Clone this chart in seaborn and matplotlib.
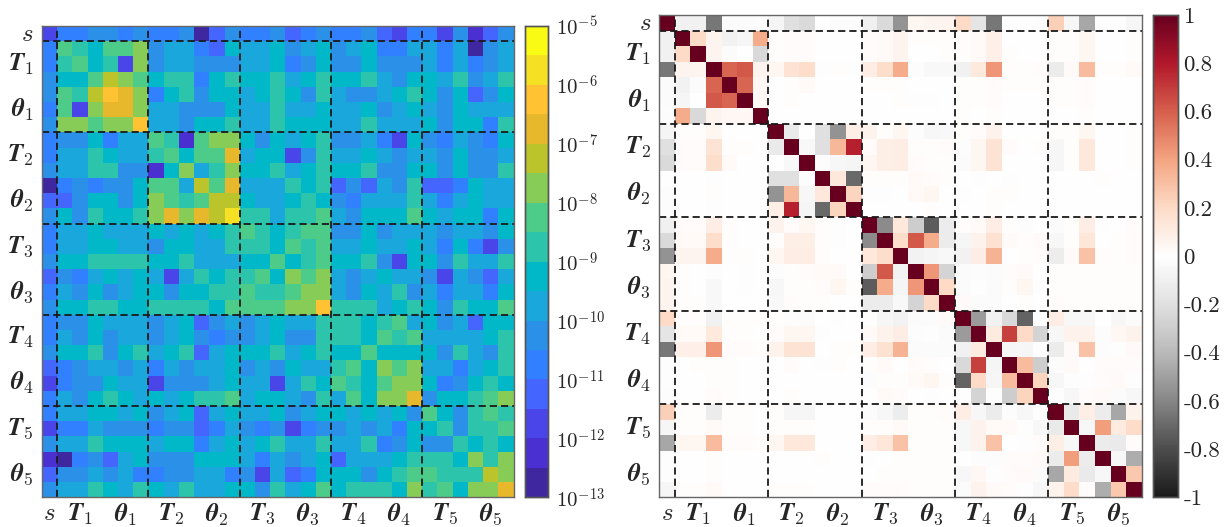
import numpy as np
import matplotlib
matplotlib.use("Agg")
import matplotlib.pyplot as plt
from matplotlib.colors import ListedColormap, LogNorm
import seaborn as sns

# labels / block layout
tick_pos = [0.5, 2.5, 5.5, 8.5, 11.5, 14.5, 17.5, 20.5, 23.5, 26.5, 29.5]
tick_labels = [r"$s$"] + [r"$\mathbfit{%s}_{%d}$" % (n, i) for i in range(1, 6) for n in ("T", r"\theta")]
block_edges = [1, 7, 13, 19, 25]

# colour bin of each cell in the left matrix (upper triangle, row by row)
cov_bins = [
    [2, 4, 4, 5, 5, 4, 5, 4, 4, 5, 0, 3, 5, 4, 4, 5, 3, 4, 5, 4, 4, 5, 3, 2, 4, 4, 2, 5, 1, 3, 5],
    [9, 8, 7, 9, 9, 10, 5, 6, 6, 4, 3, 7, 6, 6, 7, 5, 6, 7, 5, 6, 7, 4, 4, 6, 6, 4, 6, 0, 5, 6],
    [9, 7, 8, 2, 10, 5, 6, 6, 5, 5, 5, 6, 6, 7, 4, 5, 7, 5, 5, 7, 5, 5, 5, 6, 4, 6, 4, 5, 6],
    [9, 11, 10, 9, 7, 8, 8, 4, 7, 8, 7, 7, 8, 6, 7, 8, 7, 7, 8, 6, 5, 7, 7, 6, 8, 5, 6, 8],
    [13, 12, 10, 4, 7, 8, 5, 7, 7, 6, 7, 8, 7, 5, 8, 6, 5, 5, 6, 7, 8, 7, 5, 7, 3, 5, 7],
    [12, 10, 6, 6, 5, 5, 5, 7, 6, 6, 8, 6, 6, 7, 6, 6, 7, 5, 6, 7, 6, 5, 7, 6, 6, 6],
    [13, 6, 6, 5, 7, 7, 8, 6, 6, 8, 7, 7, 7, 6, 6, 8, 6, 6, 6, 7, 5, 7, 7, 4, 8],
    [9, 8, 1, 9, 10, 10, 7, 5, 7, 6, 7, 8, 5, 5, 6, 4, 2, 7, 5, 4, 6, 5, 4, 7],
    [9, 7, 9, 9, 12, 6, 7, 7, 2, 5, 8, 6, 6, 7, 6, 5, 6, 6, 5, 7, 5, 5, 6],
    [10, 6, 8, 10, 7, 7, 8, 6, 7, 8, 7, 7, 8, 5, 5, 7, 7, 5, 7, 5, 5, 8],
    [11, 9, 12, 6, 6, 6, 8, 7, 8, 3, 5, 3, 6, 5, 8, 3, 3, 4, 7, 6, 6],
    [11, 11, 7, 6, 6, 7, 8, 7, 5, 4, 6, 6, 6, 8, 6, 4, 6, 7, 6, 6],
    [14, 8, 8, 6, 8, 8, 9, 6, 5, 7, 7, 7, 9, 7, 6, 7, 7, 4, 7],
    [9, 8, 7, 8, 9, 9, 5, 5, 7, 5, 6, 6, 6, 5, 6, 6, 5, 7],
    [8, 7, 9, 8, 9, 6, 6, 7, 6, 6, 7, 6, 4, 7, 4, 2, 5],
    [9, 7, 8, 9, 7, 7, 8, 5, 2, 7, 7, 5, 8, 6, 6, 8],
    [10, 9, 10, 6, 5, 6, 7, 6, 6, 5, 2, 6, 5, 3, 6],
    [10, 10, 6, 5, 7, 6, 8, 5, 6, 4, 6, 6, 4, 7],
    [13, 8, 8, 8, 6, 7, 8, 7, 5, 8, 7, 7, 9],
    [8, 8, 7, 8, 9, 6, 7, 5, 6, 3, 7, 7],
    [8, 7, 9, 8, 9, 6, 6, 6, 6, 7, 8],
    [9, 7, 7, 7, 7, 5, 8, 6, 5, 8],
    [10, 9, 10, 6, 6, 4, 6, 7, 8],
    [10, 10, 7, 4, 5, 7, 8, 7],
    [12, 5, 7, 7, 8, 9, 10],
    [9, 7, 5, 8, 9, 8],
    [8, 5, 8, 8, 9],
    [8, 7, 8, 7],
    [10, 8, 10],
    [11, 10],
    [12],
]

# correlations, right matrix (upper triangle, row by row)
corr_rows = [
    [1, -.09, -.09, -.65, -.03, -.03, -.02, -.07, -.2, -.23, 0, -.02, -.02, -.1, -.23, -.55, .05, .06, .06, .2, -.17, -.65, -.01, -.01, -.02, .24, -.06, -.47, -.01, -.01, -.06],
    [1, .2, .06, -.08, -.06, .37, .01, .02, .02, 0, 0, 0, .02, .03, .06, .01, .01, .01, .01, .03, .08, 0, 0, 0, .01, .01, .05, 0, 0, .01],
    [1, .06, -.03, 0, -.24, .01, .02, .02, 0, 0, 0, .02, .03, .06, 0, 0, .01, .01, .03, .08, .01, 0, 0, .01, .01, .05, 0, 0, .01],
    [1, .58, .62, .06, .05, .15, .18, -.01, .01, -.01, .1, .18, .37, -.02, -.04, -.04, -.09, .12, .44, .01, .01, .02, -.12, .03, .32, .01, .01, .03],
    [1, .58, .04, 0, .01, .03, 0, 0, 0, .01, .01, .01, 0, 0, 0, .01, .01, .02, .01, .01, .01, .01, .01, .02, 0, 0, 0],
    [1, .04, 0, .01, 0, 0, 0, 0, 0, 0, .01, -.01, -.01, 0, .01, .01, .02, 0, 0, 0, .01, .01, .02, 0, 0, 0],
    [1, 0, 0, 0, 0, 0, 0, 0, 0, 0, 0, 0, 0, .01, 0, .01, 0, 0, 0, 0, 0, .01, 0, 0, 0],
    [1, -.14, 0, -.2, -.55, .09, .07, .01, .05, -.02, -.05, -.04, .01, .02, .07, 0, 0, 0, .01, .01, .05, 0, 0, .01],
    [1, -.04, -.2, .33, .78, .02, .09, .1, .01, .01, .02, -.02, .05, .15, .02, 0, .01, -.06, .01, .13, 0, 0, .01],
    [1, -.02, -.05, -.07, .05, .09, .1, .02, .01, .01, -.03, .05, .15, 0, 0, 0, -.06, .01, .13, 0, 0, .01],
    [1, .13, -.7, .01, .01, .01, .03, .02, .01, 0, -.01, 0, -.01, 0, 0, 0, 0, 0, .01, 0, 0],
    [1, .22, -.01, -.01, 0, .03, .05, 0, -.01, 0, .01, .01, 0, 0, 0, 0, 0, 0, 0, 0],
    [1, 0, 0, 0, 0, .01, 0, 0, 0, .01, 0, 0, 0, 0, 0, 0, 0, 0, 0],
    [1, -.58, .13, -.3, -.75, -.12, .01, .03, .1, .01, -.02, 0, -.03, .01, .1, -.01, 0, .02],
    [1, .18, .62, .37, -.12, -.06, .07, .16, .03, .01, .03, -.05, .01, .14, 0, .01, .02],
    [1, -.08, -.07, -.04, -.08, .1, .35, 0, .01, .02, -.11, .03, .29, .01, .01, .02],
    [1, .44, -.26, -.03, -.02, -.03, .02, .03, 0, .01, .01, .01, .01, .01, .01],
    [1, .2, -.03, -.01, -.03, .01, .05, -.01, .01, .01, .01, .01, .01, .01],
    [1, .03, -.03, -.03, 0, .01, 0, .02, .01, .01, .01, .01, .01],
    [1, -.52, -.09, -.24, -.72, -.01, .1, -.05, -.05, 0, -.05, -.03],
    [1, .11, .68, .2, -.26, -.05, .07, .07, -.02, .04, .07],
    [1, -.07, -.06, -.01, -.12, .03, .29, -.02, -.01, .03],
    [1, .32, -.3, -.02, .03, 0, .02, .02, .02],
    [1, .22, -.05, -.01, -.01, .02, .03, -.01],
    [1, -.01, -.05, .02, .03, -.03, -.05],
    [1, -.14, .09, -.12, -.47, .07],
    [1, -.05, .42, .11, .19],
    [1, -.12, -.14, .02],
    [1, -.05, -.45],
    [1, .27],
    [1],
]

cov_colors = ["#3f27a0", "#4a30d0", "#4a45e8", "#4466ff", "#3080ff", "#2a90e8", "#1aa8dc", "#00b8c8",
              "#2cc4aa", "#4ccc88", "#88cc58", "#bcc42c", "#e8b82c", "#ffc233", "#f5e024", "#f9fb15"]
cov_ticks = [10.0 ** e for e in range(-13, -4)]
cov_ticklabels = [r"$10^{%d}$" % e for e in range(-13, -4)]
corr_ticks = [-1, -0.8, -0.6, -0.4, -0.2, 0, 0.2, 0.4, 0.6, 0.8, 1]
corr_ticklabels = ["-1", "-0.8", "-0.6", "-0.4", "-0.2", "0", "0.2", "0.4", "0.6", "0.8", "1"]


def mirror(rows):
    n = len(rows)
    m = np.zeros((n, n))
    for i, r in enumerate(rows):
        m[i, i:] = r
        m[i:, i] = r
    return m


def px_axes(fig, left, top, right, bottom):
    W, H = 1227, 527
    return fig.add_axes([left / W, 1 - bottom / H, (right - left) / W, (bottom - top) / H])


def dress(ax):
    ax.set_xticks(tick_pos, tick_labels)
    ax.set_yticks(tick_pos, tick_labels, rotation=0)
    ax.tick_params(direction="in", length=4, width=0.7, color="#333333", top=True, right=True,
                   labelsize=18, labelcolor="#262626", pad=6)
    ax.tick_params(axis="x", pad=3)
    for v in block_edges:
        ax.axhline(v, color="k", lw=1.3, ls=(0, (4, 2.2)))
        ax.axvline(v, color="k", lw=1.3, ls=(0, (4, 2.2)))
    for s in ax.spines.values():
        s.set_visible(True)
        s.set_color("#666666")
        s.set_linewidth(1.0)


def dress_cbar(cax, ticks, labels, pad=6, **kw):
    cax.minorticks_off()
    cax.set_yticks(ticks, labels, **kw)
    cax.tick_params(direction="in", length=4, width=0.7, color="#333333", labelcolor="#262626", pad=pad)
    for s in cax.spines.values():
        s.set_visible(True)
        s.set_color("#555555")
        s.set_linewidth(1.0)


sns.set_theme(style="white")
plt.rcParams["mathtext.fontset"] = "cm"

fig = plt.figure(figsize=(12.27, 5.27), dpi=100)

ax1 = px_axes(fig, 42, 26, 513.5, 497.3)
cax1 = px_axes(fig, 525, 26, 548, 497.3)
cov = 10.0 ** (-13 + 0.5 * (mirror(cov_bins) + 0.5))
sns.heatmap(cov, ax=ax1, cbar_ax=cax1, cmap=ListedColormap(cov_colors),
            norm=LogNorm(vmin=1e-13, vmax=1e-5))
dress(ax1)
dress_cbar(cax1, cov_ticks, cov_ticklabels, fontsize=15)

ax2 = px_axes(fig, 659.3, 15, 1141.7, 497.3)
cax2 = px_axes(fig, 1153, 15, 1178, 497.3)
sns.heatmap(mirror(corr_rows), ax=ax2, cbar_ax=cax2, cmap="RdGy_r", vmin=-1, vmax=1)
dress(ax2)
dress_cbar(cax2, corr_ticks, corr_ticklabels, pad=4, fontsize=16.5, family="cmr10")

fig.savefig("out.png", dpi=100)
